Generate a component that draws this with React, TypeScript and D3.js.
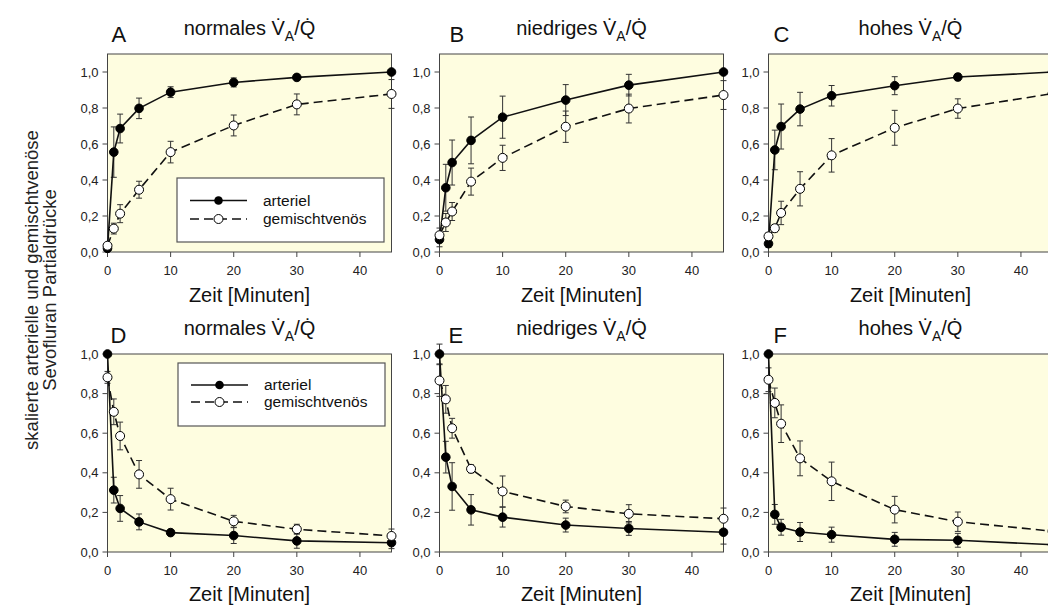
import React from "react";
import * as d3 from "d3";

// ---------- data ----------
const times = [0, 1, 2, 5, 10, 20, 30, 45];
const xTicks = [0, 10, 20, 30, 40];
const yTicks = [0, 0.2, 0.4, 0.6, 0.8, 1.0];

const panelLetters = ["A", "B", "C", "D", "E", "F"];
const panelConditions = ["normales", "niedriges", "hohes", "normales", "niedriges", "hohes"];
const seriesNames = ["arteriel", "gemischtvenös"];
const xAxisTitle = "Zeit [Minuten]";
const yAxisTitleLines = ["skalierte arterielle und gemischtvenöse", "Sevofluran Partialdrücke"];

const A_art = [0.02, 0.555, 0.686, 0.798, 0.888, 0.942, 0.97, 1.0];
const A_artErr = [0.01, 0.14, 0.08, 0.057, 0.03, 0.025, 0.012, 0.0];
const A_ven = [0.035, 0.13, 0.213, 0.346, 0.555, 0.703, 0.82, 0.878];
const A_venErr = [0.01, 0.03, 0.05, 0.047, 0.06, 0.058, 0.058, 0.08];

const B_art = [0.069, 0.357, 0.497, 0.62, 0.749, 0.844, 0.927, 1.0];
const B_artErr = [0.04, 0.13, 0.125, 0.13, 0.117, 0.086, 0.06, 0.0];
const B_ven = [0.093, 0.164, 0.225, 0.391, 0.523, 0.696, 0.797, 0.872];
const B_venErr = [0.04, 0.05, 0.05, 0.075, 0.07, 0.087, 0.08, 0.08];

const C_art = [0.046, 0.567, 0.697, 0.794, 0.868, 0.924, 0.972, 1.0];
const C_artErr = [0.02, 0.11, 0.125, 0.093, 0.057, 0.05, 0.02, 0.0];
const C_ven = [0.087, 0.132, 0.217, 0.351, 0.537, 0.69, 0.797, 0.88];
const C_venErr = [0.02, 0.02, 0.065, 0.095, 0.093, 0.097, 0.054, 0.06];

const D_art = [1.0, 0.3125, 0.22, 0.152, 0.098, 0.083, 0.056, 0.047];
const D_artErr = [0.0, 0.065, 0.065, 0.04, 0.01, 0.04, 0.037, 0.03];
const D_ven = [0.882, 0.708, 0.586, 0.392, 0.267, 0.155, 0.115, 0.081];
const D_venErr = [0.03, 0.065, 0.07, 0.07, 0.055, 0.03, 0.025, 0.035];

const E_art = [1.0, 0.479, 0.331, 0.213, 0.176, 0.136, 0.119, 0.1];
const E_artErr = [0.05, 0.08, 0.12, 0.077, 0.05, 0.035, 0.035, 0.06];
const E_ven = [0.866, 0.771, 0.625, 0.42, 0.306, 0.23, 0.193, 0.168];
const E_venErr = [0.08, 0.07, 0.05, 0.02, 0.078, 0.032, 0.046, 0.054];

const F_art = [1.0, 0.19, 0.125, 0.101, 0.0875, 0.064, 0.059, 0.037];
const F_artErr = [0.01, 0.05, 0.04, 0.048, 0.038, 0.035, 0.035, 0.03];
const F_ven = [0.87, 0.753, 0.648, 0.473, 0.357, 0.214, 0.153, 0.105];
const F_venErr = [0.06, 0.075, 0.095, 0.088, 0.097, 0.067, 0.049, 0.05];

const panelSeries = [
  { art: A_art, artErr: A_artErr, ven: A_ven, venErr: A_venErr },
  { art: B_art, artErr: B_artErr, ven: B_ven, venErr: B_venErr },
  { art: C_art, artErr: C_artErr, ven: C_ven, venErr: C_venErr },
  { art: D_art, artErr: D_artErr, ven: D_ven, venErr: D_venErr },
  { art: E_art, artErr: E_artErr, ven: E_ven, venErr: E_venErr },
  { art: F_art, artErr: F_artErr, ven: F_ven, venErr: F_venErr },
];

// ---------- layout ----------
const W = 1048;
const H = 610;
const colLeft = [107.5, 439.5, 768.5];
const PW = 284;
const rows = [
  { top: 54, bottom: 252, yMax: 1.1, titleY: 35, letterY: 42, xTitleY: 302 },
  { top: 354, bottom: 552, yMax: 1.0, titleY: 335, letterY: 343, xTitleY: 601 },
];
const letterDx = [4, 10, 5, 3, 9, 5];
const legends = [
  { panel: 0, x0: 177, x1: 384, y0: 178, y1: 242, ly: [200.5, 219] },
  { panel: 3, x0: 178, x1: 385, y0: 363, y1: 426, ly: [385, 402] },
];

const BG = "#fefde0";
const AXIS = "#444";
const FONT = "'Liberation Sans', Arial, sans-serif";
const fmt = (v: number) => d3.format(".1f")(v).replace(".", ",");

function Panel({ idx }: { idx: number }) {
  const r = rows[Math.floor(idx / 3)];
  const left = colLeft[idx % 3];
  const x = d3.scaleLinear().domain([0, 45]).range([left, left + PW]);
  const y = d3.scaleLinear().domain([0, r.yMax]).range([r.bottom, r.top]);
  const s = panelSeries[idx];
  const line = d3
    .line<number>()
    .x((_, i) => x(times[i]))
    .y((d) => y(d));
  const cx = left + PW / 2;

  const errBars = (vals: number[], errs: number[], key: string) =>
    vals.map((v, i) => {
      const e = errs[i];
      if (!e) return null;
      const px = x(times[i]);
      const yt = y(v + e);
      const yb = y(v - e);
      return (
        <g key={key + i} stroke="#333" strokeWidth={1}>
          <line x1={px} x2={px} y1={yt} y2={yb} />
          <line x1={px - 3} x2={px + 3} y1={yt} y2={yt} />
          <line x1={px - 3} x2={px + 3} y1={yb} y2={yb} />
        </g>
      );
    });

  return (
    <g>
      <rect x={left} y={r.top} width={PW} height={r.bottom - r.top} fill={BG} stroke={AXIS} strokeWidth={1} />
      {yTicks.map((t) => (
        <g key={"yt" + t}>
          <line x1={left - 5} x2={left} y1={y(t)} y2={y(t)} stroke={AXIS} />
          <text x={left - 9} y={y(t) + 4.5} textAnchor="end" fontSize={13} fontFamily={FONT} fill="#222">
            {fmt(t)}
          </text>
        </g>
      ))}
      {xTicks.map((t) => (
        <g key={"xt" + t}>
          <line x1={x(t)} x2={x(t)} y1={r.bottom} y2={r.bottom + 5} stroke={AXIS} />
          <text x={x(t)} y={r.bottom + 23} textAnchor="middle" fontSize={13} fontFamily={FONT} fill="#222">
            {t}
          </text>
        </g>
      ))}
      <text x={cx} y={r.xTitleY} textAnchor="middle" fontSize={20} fontFamily={FONT} fill="#111">
        {xAxisTitle}
      </text>
      <text x={cx} y={r.titleY} textAnchor="middle" fontSize={20} fontFamily={FONT} fill="#111">
        <tspan>{panelConditions[idx] + " V\u0307"}</tspan>
        <tspan dy={6} fontSize={14}>A</tspan>
        <tspan dy={-6}>{"/Q\u0307"}</tspan>
      </text>
      <text x={left + letterDx[idx]} y={r.letterY} fontSize={22} fontFamily={FONT} fill="#111">
        {panelLetters[idx]}
      </text>
      {errBars(s.ven, s.venErr, "ve")}
      {errBars(s.art, s.artErr, "ae")}
      <path d={line(s.ven) || ""} fill="none" stroke="#111" strokeWidth={1.6} strokeDasharray="9,5" />
      <path d={line(s.art) || ""} fill="none" stroke="#111" strokeWidth={1.6} />
      {s.art.map((v, i) => (
        <circle key={"am" + i} cx={x(times[i])} cy={y(v)} r={4.3} fill="#000" stroke="#000" strokeWidth={1} />
      ))}
      {s.ven.map((v, i) => (
        <circle key={"vm" + i} cx={x(times[i])} cy={y(v)} r={4.5} fill="#fff" stroke="#000" strokeWidth={1} />
      ))}
    </g>
  );
}

function Legend({ cfg }: { cfg: (typeof legends)[number] }) {
  const lx0 = cfg.x0 + 13;
  const lx1 = cfg.x0 + 70;
  const mx = (lx0 + lx1) / 2;
  const tx = cfg.x0 + 86;
  return (
    <g>
      <rect x={cfg.x0} y={cfg.y0} width={cfg.x1 - cfg.x0} height={cfg.y1 - cfg.y0} fill="#fff" stroke="#555" strokeWidth={1.2} />
      <line x1={lx0} x2={lx1} y1={cfg.ly[0]} y2={cfg.ly[0]} stroke="#111" strokeWidth={1.6} />
      <circle cx={mx} cy={cfg.ly[0]} r={4.3} fill="#000" />
      <text x={tx} y={cfg.ly[0] + 5} fontSize={15.5} fontFamily={FONT} fill="#111">
        {seriesNames[0]}
      </text>
      <line x1={lx0} x2={lx1} y1={cfg.ly[1]} y2={cfg.ly[1]} stroke="#111" strokeWidth={1.6} strokeDasharray="9,5" />
      <circle cx={mx} cy={cfg.ly[1]} r={4.5} fill="#fff" stroke="#000" />
      <text x={tx} y={cfg.ly[1] + 5} fontSize={15.5} fontFamily={FONT} fill="#111">
        {seriesNames[1]}
      </text>
    </g>
  );
}

export default function App() {
  return (
    <svg
      width={W}
      height={H}
      viewBox={`0 0 ${W} ${H}`}
      style={{ position: "absolute", left: 0, top: 0, background: "#fff" }}
    >
      <rect x={0} y={0} width={W} height={H} fill="#fff" />
      {panelSeries.map((_, i) => (
        <Panel key={i} idx={i} />
      ))}
      {legends.map((l, i) => (
        <Legend key={i} cfg={l} />
      ))}
      <text transform="translate(0,290) rotate(-90)" textAnchor="middle" fontSize={18.5} fontFamily={FONT} fill="#222">
        <tspan x={0} y={38}>{yAxisTitleLines[0]}</tspan>
        <tspan x={0} y={56}>{yAxisTitleLines[1]}</tspan>
      </text>
    </svg>
  );
}
